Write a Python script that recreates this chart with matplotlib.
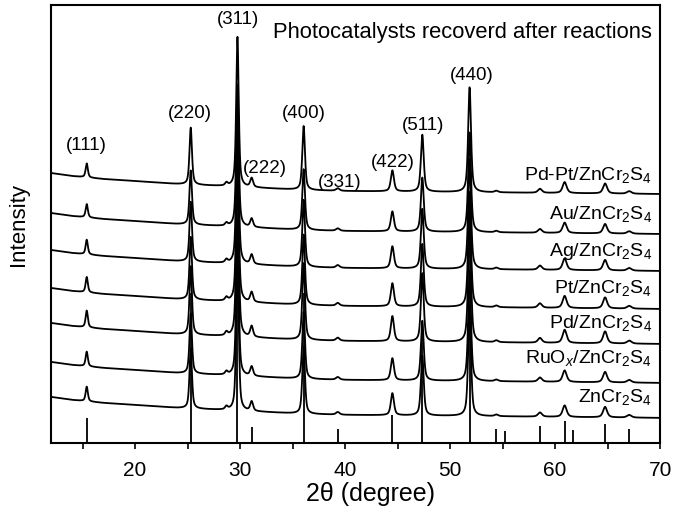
import numpy as np
import matplotlib
matplotlib.use("Agg")
import matplotlib.pyplot as plt

plt.rcParams['font.family'] = ['Liberation Sans', 'DejaVu Sans']
plt.rcParams['mathtext.fontset'] = 'custom'
plt.rcParams['mathtext.rm'] = 'Liberation Sans'
plt.rcParams['mathtext.it'] = 'Liberation Sans:italic'

# sample names, bottom to top
samples = [r'ZnCr$_2$S$_4$', r'RuO$_{\it x}$/ZnCr$_2$S$_4$', r'Pd/ZnCr$_2$S$_4$',
           r'Pt/ZnCr$_2$S$_4$', r'Ag/ZnCr$_2$S$_4$', r'Au/ZnCr$_2$S$_4$',
           r'Pd-Pt/ZnCr$_2$S$_4$']
offsets = [46, 81, 120, 155, 193, 230, 270]          # baseline at 12 deg
label_y = [41, 80, 115, 150, 187, 224, 263]
peak_scale = [1.05, 1.05, 1.2, 1.1, 1.05, 0.95, 1.0]

# peaks: position, height, fwhm
peak_pos = [15.4, 25.3, 28.7, 29.75, 31.1, 36.05, 39.3, 44.5, 47.35, 51.85,
            54.4, 58.55, 60.9, 64.75, 67.05]
peak_h = [14, 57, 3, 150, 9, 64, 2.5, 21, 57, 105, 1.5, 4, 11, 10, 2.5]
peak_w = [0.25, 0.28, 0.3, 0.28, 0.32, 0.3, 0.4, 0.35, 0.32, 0.32, 0.4, 0.45,
          0.45, 0.45, 0.5]

# background drop (sloping baseline)
bg_x = [12, 14, 17, 20, 24, 28, 32, 36, 40, 50, 60, 70]
bg_drop = [0, 3, 6, 8, 11, 13, 15, 17, 18, 19, 20, 21]

# reference sticks
stick_pos = [15.4, 25.3, 29.75, 31.1, 36.05, 39.3, 44.5, 47.35, 51.85, 54.35,
             55.2, 58.55, 60.93, 61.7, 64.75, 67.0]
stick_h = [25, 150, 250, 16, 150, 14, 28, 120, 200, 14, 12, 17, 22, 13, 19, 14]

hkl = ['(111)', '(220)', '(311)', '(222)', '(400)', '(331)', '(422)', '(511)', '(440)']
hkl_x = [15.33, 25.24, 29.8, 32.4, 36.1, 39.5, 44.5, 47.4, 52.1]
hkl_y = [298, 330, 424, 275, 330, 261, 281, 318, 368]

x = np.linspace(12, 70, 4000)
bg = np.interp(x, bg_x, bg_drop)


def pattern(scale):
    y = np.zeros_like(x)
    for p, h, w in zip(peak_pos, peak_h, peak_w):
        g = np.exp(-4 * np.log(2) * ((x - p) / w) ** 2)
        l = 1 / (1 + 4 * ((x - p) / w) ** 2)
        y += h * scale * (0.4 * g + 0.6 * l)
    return y


fig = plt.figure(figsize=(6.75, 5.12), dpi=100)
ax = fig.add_axes([0.0756, 0.135, 0.9025, 0.855])

ax.vlines(stick_pos, 0, stick_h, color='black', lw=1.3)
for off, sc in zip(offsets, peak_scale):
    ax.plot(x, off - bg + pattern(sc), color='black', lw=1.3)

for name, ly in zip(samples, label_y):
    ax.text(69.2, ly, name, ha='right', va='baseline', fontsize=14)

for t, hx, hy in zip(hkl, hkl_x, hkl_y):
    ax.text(hx, hy, t, ha='center', va='center', fontsize=13.5)

ax.text(69.2, 405, 'Photocatalysts recoverd after reactions', ha='right',
        va='baseline', fontsize=15.8)

ax.set_xlim(12, 70)
ax.set_ylim(0, 438)
ax.set_yticks([])
ax.set_xticks([20, 30, 40, 50, 60, 70])
ax.set_xticks([15, 25, 35, 45, 55, 65], minor=True)
ax.tick_params(axis='x', which='both', direction='out', length=4, width=1.2,
               labelsize=15, pad=9)
for s in ax.spines.values():
    s.set_linewidth(1.5)
ax.set_xlabel('2θ (degree)', fontsize=18, labelpad=2)
ax.xaxis.set_label_coords(0.524, -0.09)
ax.set_ylabel('Intensity', fontsize=16, labelpad=16)

fig.savefig('out.png', dpi=100)
